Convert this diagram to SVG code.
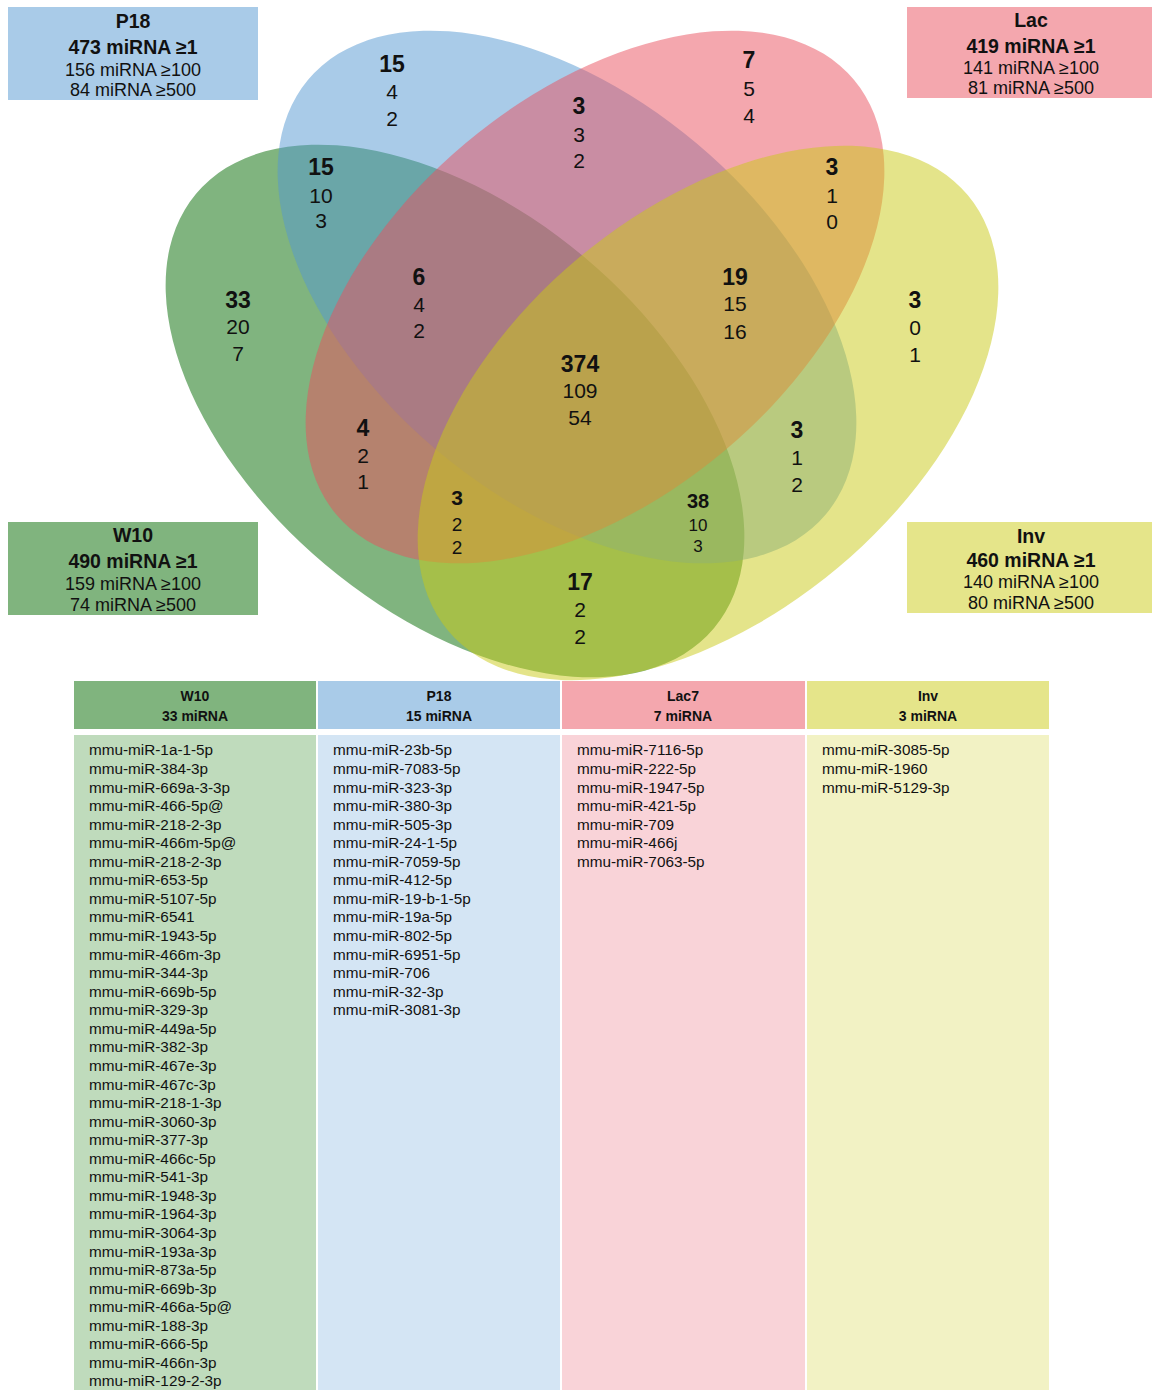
<svg xmlns="http://www.w3.org/2000/svg" width="1152" height="1390" viewBox="0 0 1152 1390">
<style>
text{font-family:"Liberation Sans",Arial,sans-serif;fill:#111}
.c{text-anchor:middle}
.vb{font-size:23px;font-weight:bold}
.vr{font-size:21px}
.lb{font-size:19.5px;font-weight:bold}
.lr{font-size:18px}
.hb{font-size:14px;font-weight:bold}
.li{font-size:15.3px}
.el{fill-opacity:0.5}
</style>
<rect width="1152" height="1390" fill="#fff"/>
<g id="venn">
<ellipse id="set-W10" class="el" cx="455" cy="411" rx="338" ry="201" transform="rotate(40 455 411)" fill="#016900"/>
<ellipse id="set-P18" class="el" cx="567" cy="297" rx="338" ry="201" transform="rotate(40 567 297)" fill="#5397d1"/>
<ellipse id="set-Lac" class="el" cx="595" cy="297" rx="338" ry="201" transform="rotate(-40 595 297)" fill="#e94f5d"/>
<ellipse id="set-Inv" class="el" cx="708" cy="413" rx="339" ry="202" transform="rotate(-40 708 413)" fill="#c9c915"/>
</g>
<g id="connectors"/>
<g id="region-P18"><text class="c vb" x="392" y="71.5">15</text><text class="c vr" x="392" y="99.2">4</text><text class="c vr" x="392" y="125.5">2</text></g>
<g id="region-Lac"><text class="c vb" x="749" y="68.2">7</text><text class="c vr" x="749" y="95.8">5</text><text class="c vr" x="749" y="122.5">4</text></g>
<g id="region-P18-Lac"><text class="c vb" x="579" y="114">3</text><text class="c vr" x="579" y="141.7">3</text><text class="c vr" x="579" y="168.3">2</text></g>
<g id="region-P18-W10"><text class="c vb" x="321" y="174.9">15</text><text class="c vr" x="321" y="202.5">10</text><text class="c vr" x="321" y="228.3">3</text></g>
<g id="region-Lac-Inv"><text class="c vb" x="832" y="174.9">3</text><text class="c vr" x="832" y="202.5">1</text><text class="c vr" x="832" y="228.5">0</text></g>
<g id="region-W10"><text class="c vb" x="238" y="308.2">33</text><text class="c vr" x="238" y="334.2">20</text><text class="c vr" x="238" y="360.5">7</text></g>
<g id="region-W10-P18-Lac"><text class="c vb" x="419" y="285.2">6</text><text class="c vr" x="419" y="312.2">4</text><text class="c vr" x="419" y="338.3">2</text></g>
<g id="region-P18-Lac-Inv"><text class="c vb" x="735" y="284.9">19</text><text class="c vr" x="735" y="310.8">15</text><text class="c vr" x="735" y="338.5">16</text></g>
<g id="region-Inv"><text class="c vb" x="915" y="308.2">3</text><text class="c vr" x="915" y="334.5">0</text><text class="c vr" x="915" y="361.5">1</text></g>
<g id="region-all"><text class="c vb" x="580" y="372.2">374</text><text class="c vr" x="580" y="398.3">109</text><text class="c vr" x="580" y="424.5">54</text></g>
<g id="region-W10-Lac"><text class="c vb" x="363" y="435.7">4</text><text class="c vr" x="363" y="462.5">2</text><text class="c vr" x="363" y="488.5">1</text></g>
<g id="region-P18-Inv"><text class="c vb" x="797" y="438.2">3</text><text class="c vr" x="797" y="465">1</text><text class="c vr" x="797" y="491.5">2</text></g>
<g id="region-W10-Lac-Inv"><text class="c" x="457" y="505" style="font-size:21px;font-weight:bold">3</text><text class="c" x="457" y="530.8" style="font-size:19px">2</text><text class="c" x="457" y="553.8" style="font-size:19px">2</text></g>
<g id="region-W10-P18-Inv"><text class="c" x="698" y="508.2" style="font-size:20px;font-weight:bold">38</text><text class="c" x="698" y="531.1" style="font-size:17px">10</text><text class="c" x="698" y="552.1" style="font-size:17px">3</text></g>
<g id="region-W10-Inv"><text class="c vb" x="580" y="589.9">17</text><text class="c vr" x="580" y="616.5">2</text><text class="c vr" x="580" y="643.5">2</text></g>
<g id="label-P18">
<rect x="8" y="7" width="250" height="93" fill="#a9cbe8"/>
<text class="c lb" x="133" y="28">P18</text>
<text class="c lb" x="133" y="54">473 miRNA ≥1</text>
<text class="c lr" x="133" y="76">156 miRNA ≥100</text>
<text class="c lr" x="133" y="96">84 miRNA ≥500</text>
</g>
<g id="label-Lac">
<rect x="907" y="7" width="245" height="91" fill="#f4a7ae"/>
<text class="c lb" x="1031" y="27">Lac</text>
<text class="c lb" x="1031" y="52.5">419 miRNA ≥1</text>
<text class="c lr" x="1031" y="74">141 miRNA ≥100</text>
<text class="c lr" x="1031" y="94">81 miRNA ≥500</text>
</g>
<g id="label-W10">
<rect x="8" y="522" width="250" height="93" fill="#80b47e"/>
<text class="c lb" x="133" y="542">W10</text>
<text class="c lb" x="133" y="568">490 miRNA ≥1</text>
<text class="c lr" x="133" y="590">159 miRNA ≥100</text>
<text class="c lr" x="133" y="611">74 miRNA ≥500</text>
</g>
<g id="label-Inv">
<rect x="907" y="522" width="245" height="91" fill="#e5e58a"/>
<text class="c lb" x="1031" y="542.5">Inv</text>
<text class="c lb" x="1031" y="567">460 miRNA ≥1</text>
<text class="c lr" x="1031" y="587.5">140 miRNA ≥100</text>
<text class="c lr" x="1031" y="608.5">80 miRNA ≥500</text>
</g>
<g id="table-W10">
<rect x="74" y="681" width="242" height="48" fill="#80b47e"/>
<rect x="74" y="735" width="242" height="655" fill="#bfdbbc"/>
<text class="c hb" x="195" y="701">W10</text>
<text class="c hb" x="195" y="721">33 miRNA</text>
<g class="li">
<text x="89" y="755.4">mmu-miR-1a-1-5p</text>
<text x="89" y="774">mmu-miR-384-3p</text>
<text x="89" y="792.5">mmu-miR-669a-3-3p</text>
<text x="89" y="811.1">mmu-miR-466-5p@</text>
<text x="89" y="829.6">mmu-miR-218-2-3p</text>
<text x="89" y="848.2">mmu-miR-466m-5p@</text>
<text x="89" y="866.8">mmu-miR-218-2-3p</text>
<text x="89" y="885.3">mmu-miR-653-5p</text>
<text x="89" y="903.9">mmu-miR-5107-5p</text>
<text x="89" y="922.4">mmu-miR-6541</text>
<text x="89" y="941">mmu-miR-1943-5p</text>
<text x="89" y="959.6">mmu-miR-466m-3p</text>
<text x="89" y="978.1">mmu-miR-344-3p</text>
<text x="89" y="996.7">mmu-miR-669b-5p</text>
<text x="89" y="1015.2">mmu-miR-329-3p</text>
<text x="89" y="1033.8">mmu-miR-449a-5p</text>
<text x="89" y="1052.4">mmu-miR-382-3p</text>
<text x="89" y="1070.9">mmu-miR-467e-3p</text>
<text x="89" y="1089.5">mmu-miR-467c-3p</text>
<text x="89" y="1108">mmu-miR-218-1-3p</text>
<text x="89" y="1126.6">mmu-miR-3060-3p</text>
<text x="89" y="1145.2">mmu-miR-377-3p</text>
<text x="89" y="1163.7">mmu-miR-466c-5p</text>
<text x="89" y="1182.3">mmu-miR-541-3p</text>
<text x="89" y="1200.8">mmu-miR-1948-3p</text>
<text x="89" y="1219.4">mmu-miR-1964-3p</text>
<text x="89" y="1238">mmu-miR-3064-3p</text>
<text x="89" y="1256.5">mmu-miR-193a-3p</text>
<text x="89" y="1275.1">mmu-miR-873a-5p</text>
<text x="89" y="1293.6">mmu-miR-669b-3p</text>
<text x="89" y="1312.2">mmu-miR-466a-5p@</text>
<text x="89" y="1330.8">mmu-miR-188-3p</text>
<text x="89" y="1349.3">mmu-miR-666-5p</text>
<text x="89" y="1367.9">mmu-miR-466n-3p</text>
<text x="89" y="1386.4">mmu-miR-129-2-3p</text>
</g>
</g>
<g id="table-P18">
<rect x="318" y="681" width="242" height="48" fill="#a9cbe8"/>
<rect x="318" y="735" width="242" height="655" fill="#d4e5f4"/>
<text class="c hb" x="439" y="701">P18</text>
<text class="c hb" x="439" y="721">15 miRNA</text>
<g class="li">
<text x="333" y="755.4">mmu-miR-23b-5p</text>
<text x="333" y="774">mmu-miR-7083-5p</text>
<text x="333" y="792.5">mmu-miR-323-3p</text>
<text x="333" y="811.1">mmu-miR-380-3p</text>
<text x="333" y="829.6">mmu-miR-505-3p</text>
<text x="333" y="848.2">mmu-miR-24-1-5p</text>
<text x="333" y="866.8">mmu-miR-7059-5p</text>
<text x="333" y="885.3">mmu-miR-412-5p</text>
<text x="333" y="903.9">mmu-miR-19-b-1-5p</text>
<text x="333" y="922.4">mmu-miR-19a-5p</text>
<text x="333" y="941">mmu-miR-802-5p</text>
<text x="333" y="959.6">mmu-miR-6951-5p</text>
<text x="333" y="978.1">mmu-miR-706</text>
<text x="333" y="996.7">mmu-miR-32-3p</text>
<text x="333" y="1015.2">mmu-miR-3081-3p</text>
</g>
</g>
<g id="table-Lac7">
<rect x="562" y="681" width="243" height="48" fill="#f4a7ae"/>
<rect x="562" y="735" width="243" height="655" fill="#f9d3d8"/>
<text class="c hb" x="683" y="701">Lac7</text>
<text class="c hb" x="683" y="721">7 miRNA</text>
<g class="li">
<text x="577" y="755.4">mmu-miR-7116-5p</text>
<text x="577" y="774">mmu-miR-222-5p</text>
<text x="577" y="792.5">mmu-miR-1947-5p</text>
<text x="577" y="811.1">mmu-miR-421-5p</text>
<text x="577" y="829.6">mmu-miR-709</text>
<text x="577" y="848.2">mmu-miR-466j</text>
<text x="577" y="866.8">mmu-miR-7063-5p</text>
</g>
</g>
<g id="table-Inv">
<rect x="807" y="681" width="242" height="48" fill="#e5e58a"/>
<rect x="807" y="735" width="242" height="655" fill="#f2f2c4"/>
<text class="c hb" x="928" y="701">Inv</text>
<text class="c hb" x="928" y="721">3 miRNA</text>
<g class="li">
<text x="822" y="755.4">mmu-miR-3085-5p</text>
<text x="822" y="774">mmu-miR-1960</text>
<text x="822" y="792.5">mmu-miR-5129-3p</text>
</g>
</g>
</svg>
